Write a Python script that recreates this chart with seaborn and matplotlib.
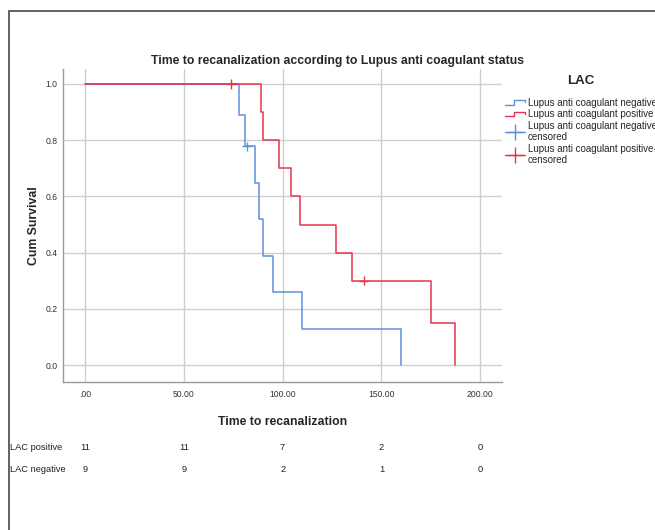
import numpy as np
import pandas as pd
import seaborn as sns
import matplotlib
matplotlib.use("Agg")
import matplotlib.pyplot as plt
from matplotlib.lines import Line2D
from matplotlib.legend_handler import HandlerBase
from matplotlib.patches import Rectangle
import matplotlib.transforms as mtransforms

# ---------------- data ----------------
groups = ["Lupus anti coagulant negative", "Lupus anti coagulant positive"]
neg_times = [78, 81, 82, 86, 88, 90, 95, 110, 160]
neg_event = [1, 1, 0, 1, 1, 1, 1, 1, 1]
pos_times = [74, 89, 90, 98, 104, 109, 127, 135, 141, 175, 187]
pos_event = [0, 1, 1, 1, 1, 1, 1, 1, 0, 1, 1]

xticks = [0, 50, 100, 150, 200]
xticklabels = [".00", "50.00", "100.00", "150.00", "200.00"]
yticks = [0.0, 0.2, 0.4, 0.6, 0.8, 1.0]

risk_labels = ["LAC positive", "LAC negative"]
risk_pos = [11, 11, 7, 2, 0]
risk_neg = [9, 9, 2, 1, 0]

p_text = "P=0.041"
title = "Time to recanalization according to Lupus anti coagulant status"

colors = {"Lupus anti coagulant negative": "#5f90dc",
          "Lupus anti coagulant positive": "#e5344f"}


def km(times, events, label):
    order = np.argsort(times, kind="stable")
    t = np.asarray(times)[order]
    e = np.asarray(events)[order]
    n = len(t)
    s = 1.0
    steps = [(0.0, 1.0)]
    cens = []
    for i, (ti, ei) in enumerate(zip(t, e)):
        at_risk = n - i
        if ei:
            s *= (1 - 1.0 / at_risk)
            steps.append((float(ti), s))
        else:
            cens.append((float(ti), s))
    sdf = pd.DataFrame(steps, columns=["time", "surv"])
    sdf["group"] = label
    cdf = pd.DataFrame(cens, columns=["time", "surv"])
    cdf["group"] = label
    return sdf, cdf


s1, c1 = km(neg_times, neg_event, groups[0])
s2, c2 = km(pos_times, pos_event, groups[1])
steps = pd.concat([s1, s2], ignore_index=True)
cens = pd.concat([c1, c2], ignore_index=True)

# ---------------- plot ----------------
sns.set_style("white")
plt.rcParams["font.family"] = ["Liberation Sans", "DejaVu Sans"]

fig = plt.figure(figsize=(6.55, 5.30), dpi=100)
ax = fig.add_axes([63 / 655, 1 - 382 / 530, (502 - 63) / 655, (382 - 69) / 530])

sns.lineplot(data=steps, x="time", y="surv", hue="group", palette=colors,
             drawstyle="steps-post", estimator=None, sort=False,
             linewidth=1.1, legend=False, ax=ax, zorder=3)
sns.scatterplot(data=cens, x="time", y="surv", hue="group", palette=colors,
                marker="+", s=45, linewidth=1.0, legend=False, ax=ax, zorder=4)

ax.set_xlim(-11.1, 211)
ax.set_ylim(-0.06, 1.053)
ax.set_xticks(xticks)
ax.set_xticklabels(xticklabels)
ax.set_yticks(yticks)
ax.set_yticklabels([f"{v:.1f}" for v in yticks])
ax.grid(True, color="#cfcfcf", linewidth=1.0)
ax.set_axisbelow(True)
ax.tick_params(axis="both", length=0, labelsize=6.2, colors="#333333")
ax.tick_params(axis="x", pad=6)
ax.tick_params(axis="y", pad=4)
for sp in ["top", "right"]:
    ax.spines[sp].set_visible(False)
for sp in ["left", "bottom"]:
    ax.spines[sp].set_color("#9a9a9a")
    ax.spines[sp].set_linewidth(1.0)

ax.set_xlabel("Time to recanalization", fontsize=8.8, fontweight="bold", labelpad=12)
ax.set_ylabel("Cum Survival", fontsize=8.8, fontweight="bold", labelpad=4)

fig.text(338 / 655, 1 - 61 / 530, title, fontsize=8.8, fontweight="bold",
         ha="center", va="center")
ax.text(407, 0.852, p_text, fontsize=6.5, ha="center", va="center", color="#333333")


# legend handles
class StepHandler(HandlerBase):
    def create_artists(self, legend, orig_handle, xdescent, ydescent, width,
                       height, fontsize, trans):
        x0, y0 = -xdescent, -ydescent
        xs = [x0, x0 + width * 0.45, x0 + width * 0.45, x0 + width, x0 + width]
        ys = [y0 + height * 0.15, y0 + height * 0.15, y0 + height * 0.85,
              y0 + height * 0.85, y0 + height * 0.55]
        ln = Line2D(xs, ys, color=orig_handle.get_color(), linewidth=1.0,
                    transform=trans)
        return [ln]


h_neg = Line2D([], [], color=colors[groups[0]])
h_pos = Line2D([], [], color=colors[groups[1]])
h_negc = Line2D([], [], color=colors[groups[0]], marker="+", markersize=11,
                linewidth=1.0, markeredgewidth=1.0)
h_posc = Line2D([], [], color=colors[groups[1]], marker="+", markersize=11,
                linewidth=1.0, markeredgewidth=1.0)
labels = [groups[0], groups[1], groups[0] + "-\ncensored", groups[1] + "-\ncensored"]
fig.text(581 / 655, 1 - 81 / 530, "LAC", fontsize=9.5, fontweight="bold",
         ha="center", va="center")
leg = fig.legend([h_neg, h_pos, h_negc, h_posc], labels,
                 handler_map={h_neg: StepHandler(), h_pos: StepHandler()},
                 loc="upper left", bbox_to_anchor=(499 / 655, 1 - 92 / 530),
                 frameon=False, fontsize=7.0,
                 handlelength=2.1, handletextpad=0.25, labelspacing=0.15,
                 borderpad=0.1)

# number at risk table
trans = mtransforms.blended_transform_factory(ax.transData, fig.transFigure)
for row, (lab, vals) in enumerate(zip(risk_labels, [risk_pos, risk_neg])):
    yy = 1 - (447 + row * 23) / 530
    fig.text(10 / 655, yy, lab, fontsize=6.7, ha="left", va="center", color="#222222")
    for xv, v in zip(xticks, vals):
        ax.text(xv, yy, str(v), transform=trans, fontsize=6.7, ha="center",
                va="center", color="#222222", clip_on=False)

# outer frame
fig.patches.append(Rectangle((9 / 655, -0.2), 2.0, 0.2 + 1 - 11 / 530,
                             transform=fig.transFigure, fill=False,
                             edgecolor="#555555", linewidth=1.3))

fig.savefig("out.png", dpi=100)
